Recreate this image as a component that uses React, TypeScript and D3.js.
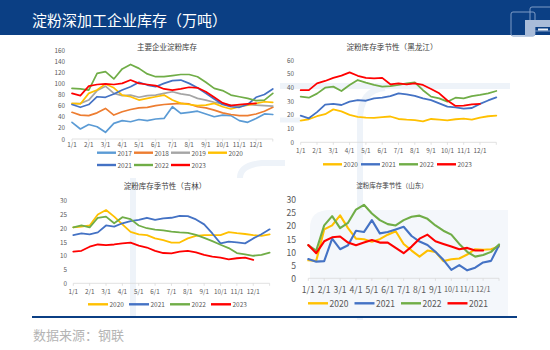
import React from 'react';
import * as d3 from 'd3';

// half-month grid: 0 = 1/1, 11 = 12/1, 12 = year end
const halfMonths = d3.range(0, 12.5, 0.5);
const monthLabels = ['1/1', '2/1', '3/1', '4/1', '5/1', '6/1', '7/1', '8/1', '9/1', '10/1', '11/1', '12/1'];

// 主要企业淀粉库存
const nat2017 = [30, 18, 26, 22, 12, 28, 33, 31, 35, 33, 36, 37, 58, 46, 48, 50, 45, 40, 43, 42, 33, 30, 37, 45, 44];
const nat2018 = [48, 43, 42, 47, 55, 43, 49, 53, 56, 57, 60, 62, 63, 64, 63, 58, 56, 52, 47, 44, 42, 42, 45, 50, 57];
const nat2019 = [63, 64, 70, 87, 95, 82, 78, 79, 75, 78, 79, 82, 85, 81, 79, 73, 70, 66, 63, 61, 60, 62, 61, 60, 59];
const nat2020 = [64, 63, 82, 88, 99, 92, 79, 76, 70, 73, 76, 79, 70, 64, 62, 60, 61, 64, 58, 54, 58, 61, 64, 67, 66];
const nat2021 = [62, 57, 62, 76, 75, 81, 88, 94, 102, 97, 94, 100, 105, 106, 100, 92, 82, 72, 62, 58, 57, 62, 75, 80, 90];
const nat2022 = [91, 90, 88, 118, 121, 108, 126, 134, 127, 117, 112, 112, 114, 116, 116, 112, 102, 91, 87, 79, 76, 73, 69, 70, 82];
const nat2023 = [82, 78, 95, 98, 99, 98, 100, 106, 100, 98, 96, 90, 88, 90, 93, 92, 85, 75, 65, 60, 62, 63, 64, null, null];

// 黑龙江
const hlj2020 = [15.8, 16.8, 19, 20.5, 24, 22.5, 20, 18.5, 18, 17.8, 18.3, 18.8, 17, 16.5, 16.2, 15.3, 17, 16.5, 16, 16.8, 17.2, 16.5, 18, 19, 19.5];
const hlj2021 = [19.4, 17.5, 22, 27.5, 28, 27.2, 29.6, 30.8, 30.3, 32, 32.5, 33.7, 35.7, 35, 33.8, 32, 30.8, 28.4, 26, 25.5, 24.5, 25, 28, 30.5, 32.8];
const hlj2022 = [33.3, 32.5, 35.5, 39.8, 40.6, 37.4, 41.8, 45.4, 43.5, 41.8, 40.6, 41, 41.8, 43, 43.7, 38, 33.3, 32, 29.6, 32.5, 32, 33.7, 34.5, 35.7, 37.4];
const hlj2023 = [38, 38, 43, 44.7, 47, 48.6, 51, 48.5, 47, 46.6, 47, 42.3, 43, 42.3, 43, 41.8, 38.9, 35.7, 30.5, 26.5, 26.7, 27.7, 28, null, null];

// 吉林
const jl2020 = [20.3, 20.6, 21, 25, 26.6, 24.2, 21.4, 18.7, 17.8, 17.5, 16.3, 15.7, 14.8, 14.8, 16.3, 17.2, 17.5, 17.5, 17.5, 18.6, 18.2, 17.9, 17.5, 17.2, 17.8];
const jl2021 = [17.5, 18.1, 17.8, 18.5, 21, 20.6, 21.8, 22.6, 23, 23.8, 23, 23.6, 23.8, 24.5, 24.4, 23.2, 21.4, 18.1, 14.5, 15.1, 14.9, 14.5, 16.3, 17.8, 19.6];
const jl2022 = [20.3, 21, 20.3, 23.8, 24.2, 21.8, 24, 23.3, 21, 20, 19.5, 19.2, 18.8, 18.5, 18.3, 17.6, 16.5, 15.3, 14, 12.8, 11, 10.5, 10, 10.3, 11.1];
const jl2023 = [11.5, 11.8, 13.3, 14.1, 13.9, 14.1, 14.5, 14.8, 13.7, 13, 11.8, 11, 10.9, 11.5, 11.8, 11.2, 10.3, 9.7, 9.3, 8.7, 9.1, 9.3, 8.5, null, null];

// 山东
const sd2020 = [6.8, 6.6, 18.5, 20, 23.8, 19, 15, 14.8, 13.8, 14.8, 16.5, 17.8, 13, 10.5, 8.2, 10.5, 10, 6.5, 7.2, 7.5, 9, 11, 10.8, 11, 12];
const sd2021 = [7.3, 6.3, 6.5, 15, 11, 12.5, 18, 17.5, 22, 17, 17.5, 18.5, 19.5, 16, 13.9, 12.6, 10, 7, 3.2, 5, 3, 4, 6, 6.6, 12.5];
const sd2022 = [12.5, 10.5, 20, 23.5, 19, 21, 26, 27.8, 24.5, 22, 20.5, 20, 22, 23.3, 23.7, 22.5, 20, 18, 16.5, 13, 10, 8.2, 8.8, 10, 12.8];
const sd2023 = [12.6, 9.5, 14, 15.5, 15.8, 13.5, 12.5, 13.5, 14.5, 13.5, 13.5, 11.5, 9.5, 12, 15, 16.5, 14, 13, 12, 11, 11.5, 10.5, 10.5, null, null];

const C = {
  y2017: '#5B9BD5', y2018: '#ED7D31', y2019: '#A5A5A5', y2020: '#FFC000',
  y2021: '#4472C4', y2022: '#70AD47', y2023: '#FF0000',
};

type Series = { name: string; color: string; values: (number | null)[] };
type PanelCfg = {
  title: string; titleX: number; titleY: number; titleSize: number;
  x0: number; x1: number; yTop: number; yBottom: number; yMax: number; yStep: number;
  yLabelX: number; xLabelY: number; tickSize: number; longTickSize?: number; lineWidth: number;
  legendY: number; legendX: number; legendStep: number; legendLine: number;
  legendRowGap: number; perRow: number; legendSize: number;
  series: Series[];
};

const panels: PanelCfg[] = [
  {
    title: '主要企业淀粉库存', titleX: 167, titleY: 46, titleSize: 7.5,
    x0: 72, x1: 272.8, yTop: 50, yBottom: 139, yMax: 160, yStep: 20,
    yLabelX: 65, xLabelY: 144.5, tickSize: 6.3, lineWidth: 1.7,
    legendY: 152.7, legendX: 97, legendStep: 37, legendLine: 19, legendRowGap: 12.3, perRow: 4, legendSize: 6.5,
    series: [
      { name: '2017', color: C.y2017, values: nat2017 },
      { name: '2018', color: C.y2018, values: nat2018 },
      { name: '2019', color: C.y2019, values: nat2019 },
      { name: '2020', color: C.y2020, values: nat2020 },
      { name: '2021', color: C.y2021, values: nat2021 },
      { name: '2022', color: C.y2022, values: nat2022 },
      { name: '2023', color: C.y2023, values: nat2023 },
    ],
  },
  {
    title: '淀粉库存季节性（黑龙江）', titleX: 392, titleY: 46, titleSize: 7.6,
    x0: 300.7, x1: 496.3, yTop: 60, yBottom: 142.3, yMax: 60, yStep: 10,
    yLabelX: 294, xLabelY: 150.5, tickSize: 6.3, lineWidth: 1.8,
    legendY: 164.3, legendX: 323, legendStep: 38, legendLine: 19, legendRowGap: 0, perRow: 4, legendSize: 6.5,
    series: [
      { name: '2020', color: C.y2020, values: hlj2020 },
      { name: '2021', color: C.y2021, values: hlj2021 },
      { name: '2022', color: C.y2022, values: hlj2022 },
      { name: '2023', color: C.y2023, values: hlj2023 },
    ],
  },
  {
    title: '淀粉库存季节性（吉林）', titleX: 165, titleY: 185, titleSize: 7.5,
    x0: 73.3, x1: 269.6, yTop: 200.7, yBottom: 283.3, yMax: 30, yStep: 5,
    yLabelX: 67, xLabelY: 291.5, tickSize: 6.3, lineWidth: 1.8,
    legendY: 304.3, legendX: 88, legendStep: 41, legendLine: 20, legendRowGap: 0, perRow: 4, legendSize: 6.5,
    series: [
      { name: '2020', color: C.y2020, values: jl2020 },
      { name: '2021', color: C.y2021, values: jl2021 },
      { name: '2022', color: C.y2022, values: jl2022 },
      { name: '2023', color: C.y2023, values: jl2023 },
    ],
  },
  {
    title: '淀粉库存季节性（山东）', titleX: 392, titleY: 185, titleSize: 6.5,
    x0: 308.3, x1: 499, yTop: 199, yBottom: 278.3, yMax: 30, yStep: 5,
    yLabelX: 296, xLabelY: 288.5, tickSize: 8.6, longTickSize: 7.2, lineWidth: 2.1,
    legendY: 303.3, legendX: 308, legendStep: 46.5, legendLine: 20, legendRowGap: 0, perRow: 4, legendSize: 8.5,
    series: [
      { name: '2020', color: C.y2020, values: sd2020 },
      { name: '2021', color: C.y2021, values: sd2021 },
      { name: '2022', color: C.y2022, values: sd2022 },
      { name: '2021', color: C.y2023, values: sd2023 },
    ],
  },
];

const FONT = '"Noto Sans CJK SC", "Noto Sans", sans-serif';

function Panel({ cfg }: { cfg: PanelCfg }) {
  const x = d3.scaleLinear().domain([0, 12]).range([cfg.x0, cfg.x1]);
  const y = d3.scaleLinear().domain([0, cfg.yMax]).range([cfg.yBottom, cfg.yTop]);
  const line = d3.line<number | null>()
    .defined(d => d != null)
    .x((_, i) => x(halfMonths[i]))
    .y(d => y(d as number));
  const yTicks = d3.range(0, cfg.yMax + cfg.yStep / 2, cfg.yStep);

  return (
    <g fontFamily={FONT}>
      <text x={cfg.titleX} y={cfg.titleY} textAnchor="middle" dominantBaseline="central"
        fontSize={cfg.titleSize} fill="#404040">{cfg.title}</text>

      {yTicks.map(t => (
        <text key={t} x={cfg.yLabelX} y={y(t)} textAnchor="end" dominantBaseline="central"
          fontSize={cfg.tickSize} fill="#595959">{t}</text>
      ))}

      <line x1={x(0)} x2={x(12)} y1={y(0)} y2={y(0)} stroke="#d9d9d9" strokeWidth={0.8} />
      {d3.range(0, 13).map(m => (
        <line key={m} x1={x(m)} x2={x(m)} y1={y(0)} y2={y(0) + 2.5} stroke="#d9d9d9" strokeWidth={0.8} />
      ))}
      {monthLabels.map((lab, i) => (
        <text key={lab} x={x(i)} y={cfg.xLabelY} textAnchor="middle" dominantBaseline="central"
          fontSize={lab.length > 3 && cfg.longTickSize ? cfg.longTickSize : cfg.tickSize}
          fill="#595959">{lab}</text>
      ))}

      {cfg.series.map((s, i) => (
        <path key={i} d={line(s.values) || ''} fill="none" stroke={s.color}
          strokeWidth={cfg.lineWidth} strokeLinejoin="round" strokeLinecap="round" />
      ))}

      {cfg.series.map((s, i) => {
        const col = i % cfg.perRow;
        const row = Math.floor(i / cfg.perRow);
        const lx = cfg.legendX + col * cfg.legendStep;
        const ly = cfg.legendY + row * cfg.legendRowGap;
        return (
          <g key={i}>
            <line x1={lx} x2={lx + cfg.legendLine} y1={ly} y2={ly} stroke={s.color} strokeWidth={2.4} />
            <text x={lx + cfg.legendLine + 1.5} y={ly} dominantBaseline="central"
              fontSize={cfg.legendSize} fill="#595959">{s.name}</text>
          </g>
        );
      })}
    </g>
  );
}

export default function App() {
  return (
    <svg width={550} height={350} style={{ position: 'absolute', left: 0, top: 0, background: '#fff' }}>
      <rect x={0} y={0} width={550} height={350} fill="#ffffff" />

      {/* faint watermark */}
      <g fill="none" stroke="#eef3f9" strokeWidth={6}>
        <path d="M 280 86 L 510 86" />
        <path d="M 360 320 L 360 120 Q 360 90 385 88" />
        <path d="M 133 178 L 133 316" />
        <path d="M 240 178 Q 240 165 262 163 L 285 163" />
        <path d="M 390 212 L 390 316" />
      </g>
      <path d="M 310 228 Q 310 210 330 210 L 508 210 L 508 316 L 310 316 Z" fill="#f4f7fb" />
      <path d="M 280 120 L 300 120" stroke="#eef3f9" strokeWidth={5} />

      {/* header band */}
      <rect x={0} y={0} width={550} height={35} fill="#0b3f84" />
      <text x={32} y={19} dominantBaseline="central" fontFamily={FONT} fontSize={15} fill="#ffffff">
        淀粉深加工企业库存（万吨）
      </text>
      <g fill="none" stroke="#7f9cc6" strokeWidth={1}>
        <rect x={511} y={12} width={24} height={24} rx={2} />
        <rect x={530} y={7} width={22} height={24} rx={2} />
      </g>
      <path d="M 525 20 L 550 20 L 550 27 L 535 27 L 535 36 L 525 36 Z" fill="#a9bcd9" />
      <rect x={538} y={28.5} width={10} height={2} fill="#e8eef6" />

      {panels.map((p, i) => <Panel key={i} cfg={p} />)}

      {/* footer */}
      <line x1={32} x2={517} y1={317} y2={317} stroke="#0b3f84" strokeWidth={2} />
      <text x={33} y={334} dominantBaseline="central" fontFamily={FONT} fontSize={13} fill="#b4b4b4">
        数据来源：钢联
      </text>
    </svg>
  );
}
